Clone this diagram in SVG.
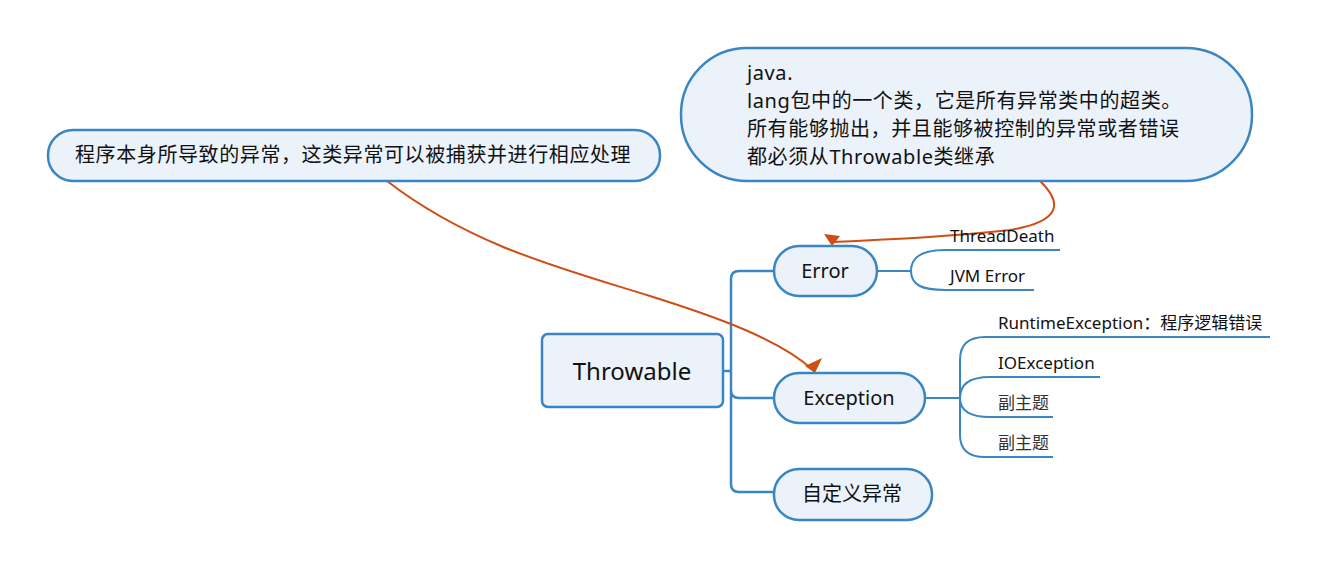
<svg xmlns="http://www.w3.org/2000/svg" width="1318" height="569" viewBox="0 0 1318 569">
<style>
text{font-family:"Noto Sans","Noto Sans CJK SC",sans-serif;fill:#111}
.box{fill:#EBF2F9;stroke:#3A86C4;stroke-width:2.5}
.ln{fill:none;stroke:#3A86C4;stroke-width:2.5}
.sub{fill:none;stroke:#3A86C4;stroke-width:2}
.rel{fill:none;stroke:#CF4E14;stroke-width:2}
.t1{font-size:24px;text-anchor:middle}
.t2{font-size:20px;text-anchor:middle}
.t3{font-size:17px}
.t4{font-size:20px;letter-spacing:0.6px}
</style>
<rect width="1318" height="569" fill="#fff"/>
<g id="connectors">
<path class="ln" d="M723,371 H731 M731,371 V279 Q731,271 739,271 H774 M731,371 V390 Q731,398 739,398 H774 M731,371 V484 Q731,492 739,492 H774"/>
<path class="sub" d="M877,271 H911 M911,271 C911,257 922,250 945,250 H1060 M911,271 C911,285 922,290 945,290 H1034"/>
<path class="sub" d="M925,398 H960 M960,398 V360 Q960,337 985,337 H1270 M960,398 Q960,377 990,377 H1100 M960,398 Q960,417 990,417 H1053 M960,398 V435 Q960,457 985,457 H1053"/>
</g>
<g id="relations">
<path class="rel" d="M387,181 C470,245 560,268 650,296 C720,318 780,340 813,370"/>
<polygon points="805,366 822,358 815,373" fill="#CF4E14"/>
<path class="rel" d="M1040,181 C1065,205 1058,222 1010,230 C940,238 870,240 834,242"/>
<polygon points="824,234 840,236 832,246" fill="#CF4E14"/>
</g>
<g id="throwable">
<rect class="box" x="542" y="334" width="181" height="73" rx="6"/>
<text class="t1" x="632" y="380">Throwable</text>
</g>
<g id="error">
<rect class="box" x="774" y="246" width="103" height="50" rx="25"/>
<text class="t2" x="825" y="278">Error</text>
</g>
<g id="exception">
<rect class="box" x="774" y="373" width="151" height="50" rx="25"/>
<text class="t2" x="849" y="405">Exception</text>
</g>
<g id="custom">
<rect class="box" x="774" y="469" width="158" height="51" rx="25"/>
<text class="t2" x="852" y="501">自定义异常</text>
</g>
<g id="threaddeath"><text class="t3" x="950" y="242">ThreadDeath</text></g>
<g id="jvmerror"><text class="t3" x="950" y="282">JVM Error</text></g>
<g id="runtime"><text class="t3" x="998" y="329">RuntimeException：程序逻辑错误</text></g>
<g id="ioexception"><text class="t3" x="998" y="369">IOException</text></g>
<g id="sub1"><text class="t3" x="998" y="409" style="fill:#333">副主题</text></g>
<g id="sub2"><text class="t3" x="998" y="449" style="fill:#333">副主题</text></g>
<g id="note1">
<rect class="box" x="48" y="130" width="612" height="51" rx="25"/>
<text class="t4" x="75" y="162">程序本身所导致的异常，这类异常可以被捕获并进行相应处理</text>
</g>
<g id="note2">
<rect class="box" x="681" y="48" width="571" height="133" rx="66"/>
<text class="t4" x="747" y="80">java.</text>
<text class="t4" x="747" y="108">lang包中的一个类，它是所有异常类中的超类。</text>
<text class="t4" x="747" y="136">所有能够抛出，并且能够被控制的异常或者错误</text>
<text class="t4" x="747" y="164">都必须从Throwable类继承</text>
</g>
</svg>
